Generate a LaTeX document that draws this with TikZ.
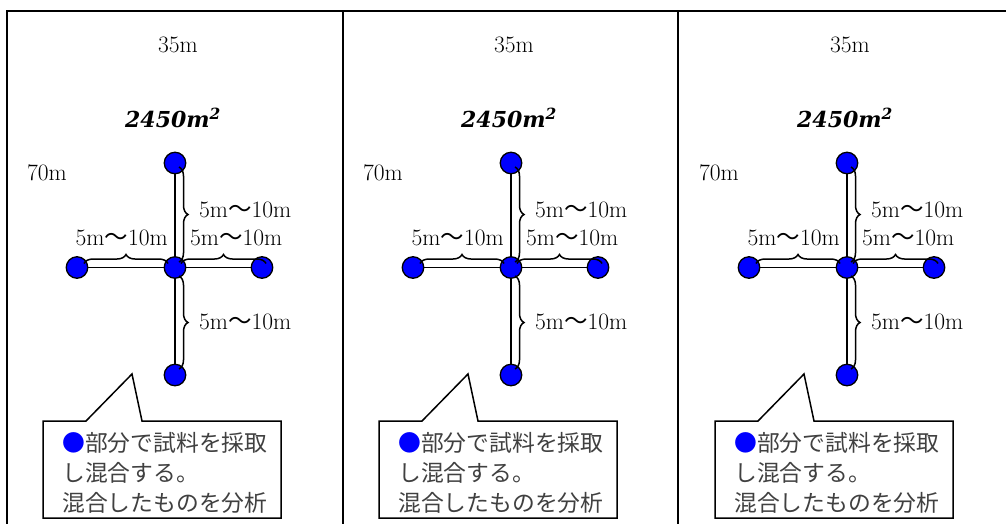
\documentclass[tikz,border=0pt]{standalone}
\usepackage{fontspec}
\setmainfont{Latin Modern Roman}[Numbers=Lining]
\newfontfamily\cjk{Noto Sans CJK JP}
\newfontfamily\areafont{DejaVu Serif}
\usetikzlibrary{decorations.pathreplacing}
\begin{document}
\begin{tikzpicture}[x=1pt,y=-1pt,
  border/.style={line width=2pt},
  link/.style={line width=1.6pt},
  dot/.style={circle,fill=blue,draw=black,line width=1.3pt,minimum size=21.5pt,inner sep=0pt},
  bracemark/.style={decorate,decoration={brace,amplitude=9pt},line width=1.5pt},
  lab/.style={font=\fontsize{23.5}{28}\selectfont,inner sep=0pt},
  note/.style={font=\cjk\fontsize{22.8}{28}\selectfont,text=black!75,inner sep=0pt,anchor=base west},
  callout/.style={fill=white,draw=black,line width=1.5pt}]
\useasboundingbox (0,0) rectangle (1006,523);
\fill[white] (0,0) rectangle (1006,523);
\clip (0,0) rectangle (1006,523);
\draw[border] (7,540) -- (7,11) -- (1020,11);
\draw[border] (343,11) -- (343,540);
\draw[border] (678,11) -- (678,540);
\foreach \k/\dx in {1/0,2/336,3/672}{
 \begin{scope}[xshift=\dx]
  \node[lab] (w\k) at (178,45) {35m};
  \node[lab,font=\areafont\fontsize{22}{28}\selectfont\bfseries\itshape] (a\k) at (173,118) {2450m\textsuperscript{2}};
  \node[lab] (h\k) at (47,173) {70m};
  \node[dot] (T\k) at (175,163) {};
  \node[dot] (C\k) at (175,267.5) {};
  \node[dot] (L\k) at (77,267.5) {};
  \node[dot] (R\k) at (262,267.5) {};
  \node[dot] (B\k) at (175,375) {};
  \draw[link] (T\k) -- (C\k);
  \draw[link] (C\k) -- (B\k);
  \draw[link] (L\k) -- (C\k);
  \draw[link] (C\k) -- (R\k);
  \coordinate (ua\k) at (179,167);
  \coordinate (ub\k) at (179,262);
  \coordinate (la\k) at (84,263.5);
  \coordinate (lb\k) at (168,263.5);
  \coordinate (ra\k) at (181,263.5);
  \coordinate (rb\k) at (266,263.5);
  \coordinate (da\k) at (179,276);
  \coordinate (db\k) at (179,369);
  \draw[bracemark] (ua\k) -- (ub\k);
  \draw[bracemark] (la\k) -- (lb\k);
  \draw[bracemark] (ra\k) -- (rb\k);
  \draw[bracemark] (da\k) -- (db\k);
  \node[lab,anchor=west] (lu\k) at (199,210) {5m{\cjk 〜}10m};
  \node[lab,anchor=east] (ll\k) at (168,238) {5m{\cjk 〜}10m};
  \node[lab,anchor=west] (lr\k) at (190,238) {5m{\cjk 〜}10m};
  \node[lab,anchor=west] (ld\k) at (199,322) {5m{\cjk 〜}10m};
  \draw[callout] (43,421) -- (86,421) -- (132,374) -- (142,421) -- (281,421) -- (281,518) -- (43,518) -- cycle;
  \node[note] (n1\k) at (62,451) {{\color{blue}●}部分で試料を採取};
  \node[note] (n2\k) at (62,481) {し混合する。};
  \node[note] (n3\k) at (62,511) {混合したものを分析};
 \end{scope}}
\end{tikzpicture}
\end{document}
